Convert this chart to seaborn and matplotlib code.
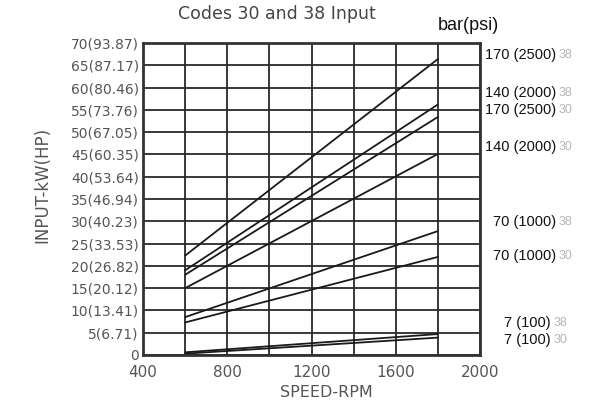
import matplotlib
matplotlib.use("Agg")
import matplotlib.pyplot as plt
import seaborn as sns
import pandas as pd

# ---- data ----
rpm = [600, 1800]
series_names = ["170/38", "140/38", "170/30", "140/30", "70/38", "70/30", "7/38", "7/30"]
kw_170_38 = [22.3, 66.4]
kw_140_38 = [19.0, 56.2]
kw_170_30 = [18.0, 53.4]
kw_140_30 = [15.0, 45.1]
kw_70_38 = [8.5, 27.8]
kw_70_30 = [7.3, 22.0]
kw_7_38 = [0.6, 4.7]
kw_7_30 = [0.3, 3.9]
all_kw = [kw_170_38, kw_140_38, kw_170_30, kw_140_30, kw_70_38, kw_70_30, kw_7_38, kw_7_30]

x_ticks = [400, 800, 1200, 1600, 2000]
y_ticks = list(range(0, 71, 5))
y_tick_labels = ["0", "5(6.71)", "10(13.41)", "15(20.12)", "20(26.82)", "25(33.53)",
                 "30(40.23)", "35(46.94)", "40(53.64)", "45(60.35)", "50(67.05)",
                 "55(73.76)", "60(80.46)", "65(87.17)", "70(93.87)"]

right_labels = ["170 (2500)", "140 (2000)", "170 (2500)", "140 (2000)",
                "70 (1000)", "70 (1000)", "7 (100)", "7 (100)"]
right_codes = ["38", "38", "30", "30", "38", "30", "38", "30"]
right_label_y_px = [55, 93, 110, 147, 222, 256, 323, 340]

rows = []
for name, vals in zip(series_names, all_kw):
    for r, v in zip(rpm, vals):
        rows.append({"series": name, "rpm": r, "kw": v})
df = pd.DataFrame(rows)

# ---- figure ----
sns.set_theme(style="white")
plt.rcParams["font.family"] = ["DejaVu Sans"]

W, H = 592, 401
fig = plt.figure(figsize=(W / 100, H / 100), dpi=100)
ax = fig.add_axes([143 / W, 1 - 355 / H, (480 - 143) / W, (355 - 43) / H])

sns.lineplot(data=df, x="rpm", y="kw", units="series", estimator=None,
             color="#1a1a1a", linewidth=1.3, ax=ax, legend=False)

ax.set_xlim(400, 2000)
ax.set_ylim(0, 70)
ax.set_xticks(x_ticks)
ax.set_xticks(list(range(400, 2001, 200)), minor=True)
ax.set_yticks(y_ticks)
ax.set_yticklabels(y_tick_labels)
ax.grid(True, which="both", color="#2a2a2a", linewidth=1.3)
ax.set_axisbelow(True)
ax.tick_params(axis="both", which="both", length=0)
ax.tick_params(axis="y", labelsize=10, labelcolor="#555555", pad=3)
ax.tick_params(axis="x", labelsize=11, labelcolor="#555555", pad=7)
for lbl in ax.get_yticklabels():
    lbl.set_verticalalignment("center_baseline")
for s in ax.spines.values():
    s.set_visible(True)
    s.set_color("#333333")
    s.set_linewidth(2)
ax.set_xlabel("")
ax.set_ylabel("")

def fx(px):
    return px / W

def fy(py):
    return 1 - py / H

fig.text(fx(277), fy(14), "Codes 30 and 38 Input", ha="center", va="center",
         fontsize=12.5, color="#444444")
fig.text(fx(326), fy(400), "SPEED-RPM", ha="center", va="bottom",
         fontsize=11.5, color="#555555")
fig.text(fx(42), fy(185), "INPUT-kW(HP)", ha="center", va="center",
         rotation=90, fontsize=12, color="#555555")
fig.text(fx(468), fy(26), "bar(psi)", ha="center", va="center",
         fontsize=13, color="#111111", family="Liberation Sans")

for lab, code, py in zip(right_labels, right_codes, right_label_y_px):
    xr = 551 if lab.startswith("7 ") else 556
    fig.text(fx(xr), fy(py), lab, ha="right", va="center", fontsize=10.5,
             color="#111111", family="Liberation Sans")
    fig.text(fx(xr + 3), fy(py), code, ha="left", va="center", fontsize=9,
             color="#b5b5b5", family="Liberation Sans")

fig.savefig("out.png", dpi=100)
